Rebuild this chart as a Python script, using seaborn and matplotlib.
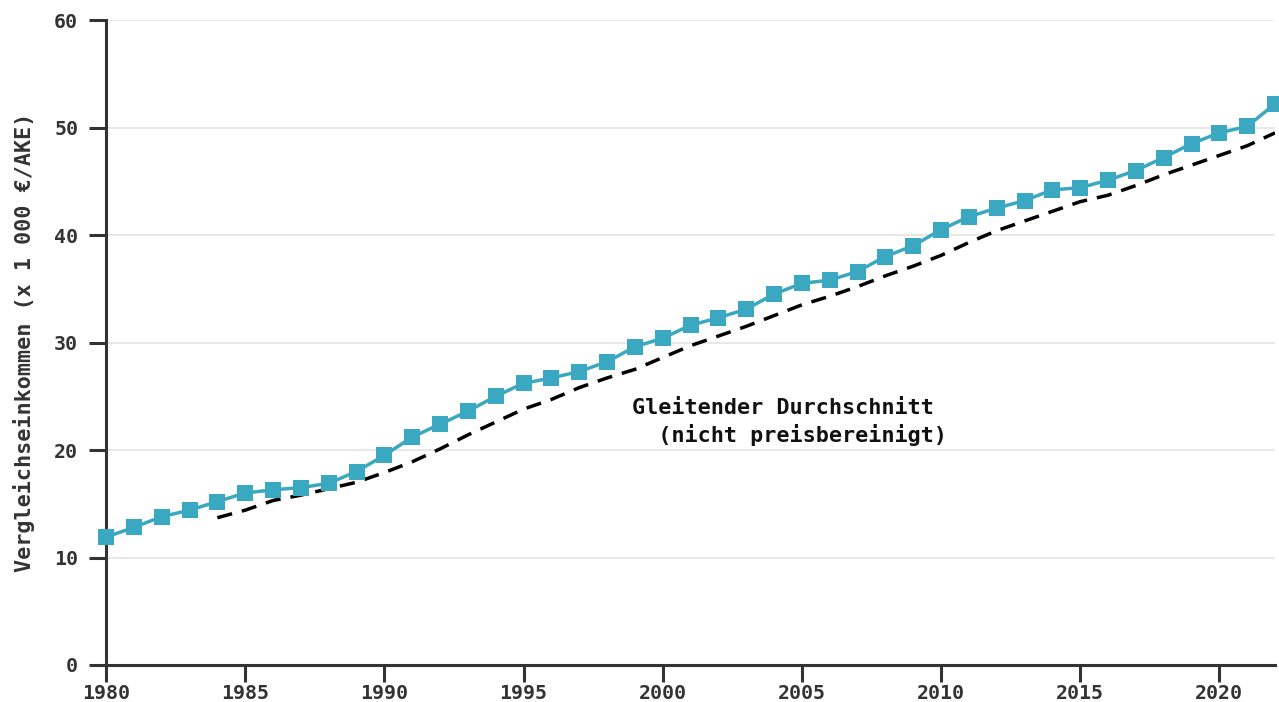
import matplotlib
matplotlib.use("Agg")
import matplotlib.pyplot as plt
import seaborn as sns
import pandas as pd

years = list(range(1980, 2023))
income = [11.9, 12.8, 13.8, 14.4, 15.2, 16.0, 16.3, 16.5, 16.9, 18.0,
          19.5, 21.2, 22.4, 23.6, 25.0, 26.2, 26.7, 27.3, 28.2, 29.6,
          30.4, 31.6, 32.3, 33.1, 34.5, 35.5, 35.8, 36.6, 38.0, 39.0,
          40.5, 41.7, 42.5, 43.2, 44.2, 44.4, 45.1, 46.0, 47.2, 48.5,
          49.5, 50.1, 52.2]
ma_years = list(range(1984, 2023))
moving_avg = [13.7, 14.4, 15.3, 15.8, 16.4, 17.0, 17.9, 18.9, 20.1, 21.4,
              22.6, 23.8, 24.7, 25.8, 26.7, 27.5, 28.6, 29.7, 30.6, 31.5,
              32.5, 33.5, 34.3, 35.2, 36.2, 37.1, 38.1, 39.3, 40.4, 41.3,
              42.2, 43.1, 43.7, 44.6, 45.6, 46.5, 47.4, 48.3, 49.5]
x_ticks = [1980, 1985, 1990, 1995, 2000, 2005, 2010, 2015, 2020]
y_ticks = [0, 10, 20, 30, 40, 50, 60]
y_label = "Vergleichseinkommen (x 1 000 €/AKE)"
annotation = "Gleitender Durchschnitt\n  (nicht preisbereinigt)"

sns.set_style("white")
plt.rcParams['font.family'] = ['DejaVu Sans Mono', 'DejaVu Sans']
plt.rcParams['font.weight'] = 'bold'

W, H = 1279, 702
fig = plt.figure(figsize=(W / 100, H / 100), dpi=100)
ax = fig.add_axes([106 / W, (H - 665) / H, (1275 - 106) / W, (665 - 20) / H])

df_main = pd.DataFrame({"year": years, "value": income})
df_ma = pd.DataFrame({"year": ma_years, "value": moving_avg})

sns.lineplot(data=df_ma, x="year", y="value", ax=ax, color="black",
             linewidth=2.5, dashes=False, zorder=3)
ax.lines[-1].set_dashes([4.4, 2.9])
sns.lineplot(data=df_main, x="year", y="value", ax=ax, color="#3aa8c1",
             linewidth=2.5, marker="s", markersize=11, markeredgewidth=0,
             zorder=5, clip_on=False)

ax.set_xlim(1980, 2022)
ax.set_ylim(0, 60)
ax.set_xticks(x_ticks)
ax.set_yticks(y_ticks)
ax.set_xticklabels([str(t) for t in x_ticks])
ax.set_yticklabels([str(t) for t in y_ticks])

ax.yaxis.grid(True, color="#e6e6e6", linewidth=1.3, zorder=0)
ax.xaxis.grid(False)
ax.set_axisbelow(True)

for side in ["top", "right"]:
    ax.spines[side].set_visible(False)
for side in ["left", "bottom"]:
    ax.spines[side].set_color("#333333")
    ax.spines[side].set_linewidth(2.2)

ax.tick_params(axis="both", which="major", length=12, width=2.2,
               color="#333333", labelsize=14.3, labelcolor="#333333",
               direction="out", bottom=True, left=True)
ax.tick_params(axis="y", pad=8)
ax.tick_params(axis="x", pad=2)
for lab in ax.get_xticklabels() + ax.get_yticklabels():
    lab.set_fontweight("bold")

ax.set_xlabel("")
ax.set_ylabel(y_label, fontsize=15.7, fontweight="bold", color="#333333",
              labelpad=14)

ax.text(1998.9, 24.8, annotation, fontsize=15.7, fontweight="bold",
        color="#111111", ha="left", va="top", linespacing=1.3)

fig.savefig("out.png", dpi=100)
